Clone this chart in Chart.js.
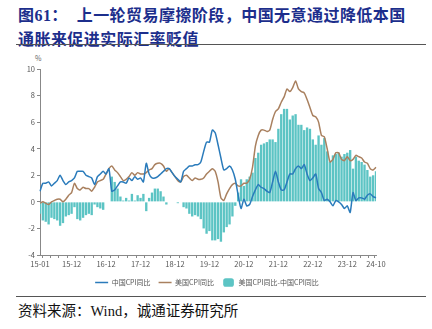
<!DOCTYPE html>
<html><head><meta charset="utf-8">
<script src="https://cdn.jsdelivr.net/npm/chart.js@4.4.1/dist/chart.umd.min.js"></script>
<style>
html,body{margin:0;padding:0;background:#fff;width:432px;height:329px;overflow:hidden;position:relative;font-family:"Noto Sans CJK SC",sans-serif;}
#title{position:absolute;left:18px;top:4px;width:420px;color:#1C2E8C;font-family:"Liberation Serif","Noto Sans CJK SC",serif;font-weight:bold;font-size:16px;line-height:24px;letter-spacing:0.45px;white-space:nowrap;}
.rule{position:absolute;left:16px;width:410px;height:0;border-top:1.5px solid #555;}
#src{position:absolute;left:18px;top:299px;font-family:"Liberation Serif","Noto Sans CJK SC",serif;font-size:14.5px;color:#111;white-space:nowrap;}
#pct{position:absolute;left:35px;top:53px;font-size:7px;color:#666;}
#wrap{position:absolute;left:0;top:59px;width:432px;height:237px;}
</style></head>
<body>
<div id="title">图61：&nbsp;&nbsp;上一轮贸易摩擦阶段，中国无意通过降低本国<br>通胀来促进实际汇率贬值</div>
<div class="rule" style="top:44px"></div>
<div id="pct">%</div>
<div id="wrap"><canvas id="c"></canvas></div>
<div class="rule" style="top:296px"></div>
<div id="src">资料来源：Wind，诚通证券研究所</div>
<script>
// categories: months 2015-01 .. 2024-10
const months = [];
for (let y = 2015; y <= 2024; y++) {
  for (let m = 1; m <= 12; m++) {
    if (y === 2024 && m > 10) break;
    months.push(String(y).slice(2) + '-' + String(m).padStart(2, '0'));
  }
}
const tickLabels = ['15-01','15-12','16-12','17-12','18-12','19-12','20-12','21-12','22-12','23-12','24-10'];

const chinaCPI = [
  0.8,1.4,1.4,1.5,1.2,1.4,1.6,2.0,1.6,1.3,1.5,1.6,
  1.8,2.3,2.3,2.3,2.0,1.9,1.8,1.3,1.9,2.1,2.3,2.1,
  2.5,0.8,0.9,1.2,1.5,1.5,1.4,1.8,1.6,1.9,1.7,1.8,
  1.5,2.9,2.1,1.8,1.8,1.9,2.1,2.3,2.5,2.5,2.2,1.9,
  1.7,1.5,2.3,2.5,2.7,2.7,2.8,2.8,3.0,3.8,4.5,4.5,
  5.4,5.2,4.3,3.3,2.4,2.5,2.7,2.4,1.7,0.5,-0.5,0.2,
  -0.3,-0.2,0.4,0.9,1.3,1.1,1.0,0.8,0.7,1.5,2.3,1.5,
  0.9,0.9,1.5,2.1,2.1,2.5,2.7,2.5,2.8,2.1,1.6,1.8,
  2.1,1.0,0.7,0.1,0.2,0.0,-0.3,0.1,0.0,-0.2,-0.5,-0.3,
  -0.8,0.7,0.1,0.3,0.3,0.2,0.5,0.6,0.4,0.3
];
const usCPI = [
  -0.1,0.0,-0.1,-0.2,0.0,0.1,0.2,0.2,0.0,0.2,0.5,0.7,
  1.4,1.0,0.9,1.1,1.0,1.0,0.8,1.1,1.5,1.6,1.7,2.1,
  2.5,2.7,2.4,2.2,1.9,1.6,1.7,1.9,2.2,2.0,2.2,2.1,
  2.1,2.2,2.4,2.5,2.8,2.9,2.9,2.7,2.3,2.5,2.2,1.9,
  1.6,1.5,1.9,2.0,1.8,1.6,1.8,1.7,1.7,1.8,2.1,2.3,
  2.5,2.3,1.5,0.3,0.1,0.6,1.0,1.3,1.4,1.2,1.2,1.4,
  1.4,1.7,2.6,4.2,5.0,5.4,5.4,5.3,5.4,6.2,6.8,7.0,
  7.5,7.9,8.5,8.3,8.6,9.1,8.5,8.3,8.2,7.7,7.1,6.5,
  6.4,6.0,5.0,4.9,4.0,3.0,3.2,3.7,3.7,3.2,3.1,3.4,
  3.1,3.2,3.5,3.4,3.3,3.0,2.9,2.5,2.4,2.6
];
const spread = [
  -0.9,-1.4,-1.5,-1.7,-1.2,-1.3,-1.4,-1.8,-1.6,-1.1,-1.0,-0.9,
  -0.4,-1.3,-1.4,-1.2,-1.0,-0.9,-1.0,-0.2,-0.4,-0.5,-0.6,0.0,
  0.0,1.9,1.5,1.0,0.4,0.1,0.3,0.1,0.6,0.1,0.5,0.3,
  0.6,-0.7,0.3,0.7,1.0,1.0,0.8,0.4,-0.2,0.0,0.0,0.0,
  -0.1,0.0,-0.4,-0.5,-0.9,-1.1,-1.0,-1.1,-1.3,-2.0,-2.4,-2.2,
  -2.9,-2.9,-2.8,-3.0,-2.3,-1.9,-1.7,-1.1,-0.3,0.7,1.7,1.2,
  1.7,1.9,2.2,3.3,3.7,4.3,4.4,4.5,4.7,4.7,4.5,5.5,
  6.6,7.0,7.0,6.2,6.5,6.6,5.8,5.8,5.4,5.6,5.5,4.7,
  4.3,5.0,4.3,4.8,3.8,3.0,3.5,3.6,3.7,3.4,3.6,3.7,
  3.9,2.5,3.4,3.1,3.0,2.8,2.4,1.9,2.0,2.3
];

const BLUE = '#2A7BBB', BROWN = '#A9805F', TEAL = '#5CC4C4';

const legendShift = {
  id: 'legendShift',
  afterLayout(chart) {
    const lg = chart.legend;
    if (lg) { lg.left += 19; lg.right += 19; }
  }
};

new Chart(document.getElementById('c'), {
  plugins: [legendShift],
  data: {
    labels: months,
    datasets: [
      { type: 'line', label: '中国CPI同比', data: chinaCPI, borderColor: BLUE, backgroundColor: BLUE,
        borderWidth: 1.5, pointRadius: 0, tension: 0.2, order: 1 },
      { type: 'line', label: '美国CPI同比', data: usCPI, borderColor: BROWN, backgroundColor: BROWN,
        borderWidth: 1.5, pointRadius: 0, tension: 0.2, order: 2 },
      { type: 'bar', label: '美国CPI同比-中国CPI同比', data: spread, backgroundColor: TEAL,
        barPercentage: 0.82, categoryPercentage: 1.0, order: 3 }
    ]
  },
  options: {
    responsive: true, maintainAspectRatio: false, animation: false,
    layout: { padding: { left: 0, right: 56, top: 10, bottom: 0 } },
    plugins: {
      tooltip: { enabled: false },
      legend: {
        position: 'bottom',
        labels: {
          color: '#555', font: { size: 7, family: 'Noto Sans CJK SC' },
          usePointStyle: true, pointStyleWidth: 13, boxHeight: 7, padding: 8,
          generateLabels(chart) {
            return chart.data.datasets.map((ds, i) => ({
              text: ds.label, fillStyle: ds.backgroundColor, strokeStyle: ds.type === 'line' ? ds.borderColor : ds.backgroundColor,
              lineWidth: ds.type === 'line' ? 1.5 : 0, pointStyle: ds.type === 'line' ? 'line' : 'rectRounded',
              datasetIndex: i, hidden: false, fontColor: '#555'
            }));
          }
        }
      }
    },
    scales: {
      x: {
        type: 'category', offset: false,
        grid: { display: true, drawOnChartArea: false, color: '#888', tickLength: 3, tickColor: '#888' },
        border: { display: true, color: '#888' },
        ticks: {
          autoSkip: false, maxRotation: 0, minRotation: 0, padding: 2,
          color: '#555', font: { size: 7.5, family: 'Noto Sans CJK SC' },
          callback(v, i) {
            const lab = months[i];
            if (tickLabels.includes(lab)) return lab;
            if ((i + 1) % 3 === 0) return '';
            return null;
          }
        }
      },
      y: {
        min: -4, max: 10,
        grid: { display: true, drawOnChartArea: false, color: '#888', tickLength: 3 },
        border: { display: true, color: '#888' },
        ticks: { stepSize: 2, color: '#555', font: { size: 7.5, family: 'Noto Sans CJK SC' }, padding: 2 },
        afterFit(s) { s.width = 40; }
      }
    }
  }
});
</script>
</body></html>
